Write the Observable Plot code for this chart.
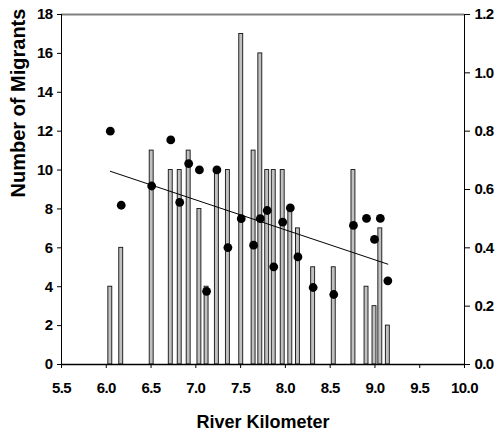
<!DOCTYPE html>
<html><head><meta charset="utf-8">
<script src="https://cdn.jsdelivr.net/npm/d3@7"></script>
<script src="https://cdn.jsdelivr.net/npm/@observablehq/plot@0.6"></script>
<style>
body{margin:0;background:#fff}
g[aria-label$="tick label"] text{letter-spacing:-0.6px}
g[aria-label="text"] text{letter-spacing:0px}
</style>
</head><body><div id="chart"></div>
<script>
const km = [6.045, 6.167, 6.507, 6.72, 6.82, 6.92, 7.04, 7.12, 7.235, 7.358, 7.507, 7.645, 7.72, 7.797, 7.87, 7.97, 8.055, 8.14, 8.31, 8.54, 8.76, 8.906, 8.995, 9.06, 9.144];
const migrants = [4, 6, 11, 10, 10, 11, 8, 4, 10, 10, 17, 11, 16, 10, 10, 10, 8, 7, 5, 5, 10, 4, 3, 7, 2];
const migrationRate = [0.80, 0.546, 0.612, 0.77, 0.556, 0.689, 0.667, 0.251, 0.667, 0.401, 0.50, 0.409, 0.50, 0.528, 0.335, 0.488, 0.537, 0.369, 0.264, 0.24, 0.477, 0.501, 0.429, 0.501, 0.287];
const xTicks = [5.5, 6.0, 6.5, 7.0, 7.5, 8.0, 8.5, 9.0, 9.5, 10.0];
const leftTicks = [0, 2, 4, 6, 8, 10, 12, 14, 16, 18];
const rightTicks = [0, 0.2, 0.4, 0.6, 0.8, 1.0, 1.2];
const xTitle = "River Kilometer";
const yTitle = "Number of Migrants";

const rightScale = 15; // 18 / 1.2
const barHalf = 0.022;
const bars = km.map((k, i) => ({km: k, n: migrants[i]}));
const pts = km.map((k, i) => ({km: k, r: migrationRate[i]}));

const chart = Plot.plot({
  width: 499, height: 434,
  marginLeft: 61, marginRight: 35, marginTop: 14, marginBottom: 70,
  style: {fontFamily: "'Liberation Sans', Arial, sans-serif", fontWeight: "bold", fontSize: "15px", color: "#000", background: "#fff"},
  x: {domain: [5.5, 10]},
  y: {domain: [0, 18]},
  marks: [
    Plot.ruleY([18], {stroke: "#808080", strokeWidth: 2}),
    Plot.rect(bars, {x1: d => d.km - barHalf, x2: d => d.km + barHalf, y1: 0, y2: "n", fill: "#c0c0c0", stroke: "#111", strokeWidth: 0.9}),
    Plot.linearRegressionY(pts, {x: "km", y: d => d.r * rightScale, ci: 0, stroke: "#000", strokeWidth: 1}),
    Plot.dot(pts, {x: "km", y: d => d.r * rightScale, r: 4.4, fill: "#000", stroke: "none"}),
    Plot.ruleX([5.5, 10], {stroke: "#000", strokeWidth: 1}),
    Plot.ruleY([0], {stroke: "#000", strokeWidth: 1.3}),
    Plot.axisX({ticks: xTicks, tickFormat: d3.format(".1f"), tickSize: 4, tickPadding: 14, label: null}),
    Plot.axisY({anchor: "left", ticks: leftTicks, tickSize: 4, tickPadding: 5, label: null}),
    Plot.axisY({anchor: "right", ticks: rightTicks.map(v => v * rightScale), tickFormat: d => (d / rightScale).toFixed(1), tickSize: 5, tickPadding: 5, label: null}),
    Plot.text([xTitle], {frameAnchor: "bottom", dy: 58, fontSize: 18, fontWeight: "bold", lineAnchor: "middle"}),
    Plot.text([yTitle], {frameAnchor: "left", rotate: -90, dx: -43, dy: 8, fontSize: 20, fontWeight: "bold", lineAnchor: "middle"})
  ]
});
document.getElementById("chart").appendChild(chart);
</script>
</body></html>
